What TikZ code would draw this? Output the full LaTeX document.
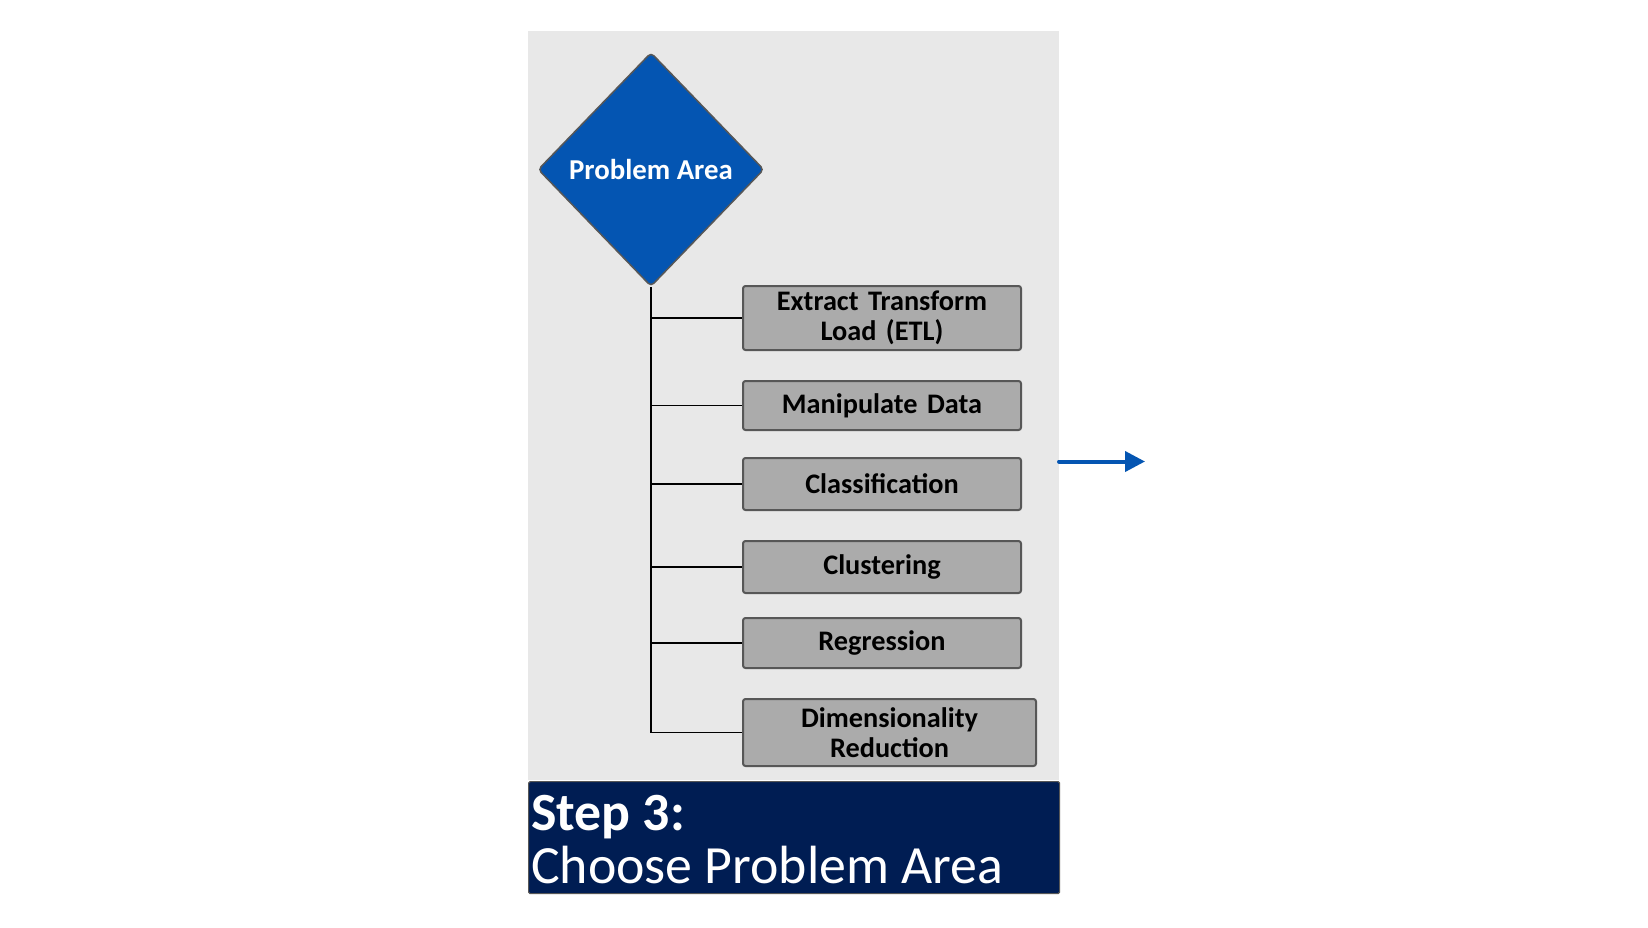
\documentclass[tikz,border=0pt]{standalone}
\usepackage{fontspec}
\setmainfont{Carlito}
\usetikzlibrary{shapes.geometric,arrows.meta}
\definecolor{panelgray}{HTML}{E8E8E8}
\definecolor{diablue}{HTML}{0455B2}
\definecolor{boxgray}{HTML}{ABABAB}
\definecolor{boxedge}{HTML}{575757}
\definecolor{navy}{HTML}{001D53}
\tikzset{
  itembox/.style={draw=boxedge, line width=2pt, fill=boxgray, rounded corners=2.5pt,
    minimum width=278pt, minimum height=50pt, inner sep=0pt, align=center,
    text width=270pt, font=\fontsize{28.3}{29.5}\selectfont\bfseries},
  branch/.style={draw=black, line width=1.8pt},
  titletext/.style={text=white, inner sep=0pt, anchor=base west}
}
\begin{document}
\begin{tikzpicture}[x=1pt,y=-1pt]
\useasboundingbox (0,0) rectangle (1648,927);
\fill[white] (0,0) rectangle (1648,927);
% panel
\node[fill=panelgray, minimum width=531pt, minimum height=749pt, inner sep=0pt, anchor=north west] (panel) at (528,31) {};
% title box
\node[fill=navy, draw=boxedge, line width=1.2pt, rounded corners=1.5pt, minimum width=531pt, minimum height=112pt, inner sep=0pt, anchor=north west] (titlebox) at (528,781) {};
\node[titletext, font=\fontsize{53.8}{54}\selectfont\bfseries] (t1) at (531,830) {Step 3:};
\node[titletext, font=\fontsize{53.8}{54}\selectfont] (t2) at (531,883) {Choose Problem Area};
% diamond
\node[diamond, fill=diablue, draw=boxedge, line width=1.5pt, rounded corners=4pt,
  minimum width=226pt, minimum height=234pt, inner sep=0pt, text=white,
  font=\fontsize{28.8}{29}\selectfont\bfseries] (pa) at (651,169.5) {Problem Area};
% boxes
\node[itembox, minimum height=64pt] (etl) at (882,318) {Extract Transform\\Load (ETL)};
\node[itembox, minimum height=49pt] (man) at (882,405.5) {Manipulate Data};
\node[itembox, minimum height=52pt] (cls) at (882,484) {Classification};
\node[itembox, minimum height=52pt] (clu) at (882,567) {Clustering};
\node[itembox, minimum height=50pt] (reg) at (882,643) {Regression};
\node[itembox, minimum width=293pt, minimum height=67pt, text width=285pt] (dim) at (889.5,732.5) {Dimensionality\\Reduction};
% connectors
\draw[branch] (pa.south) |- (dim.west);
\foreach \b in {etl,man,cls,clu,reg}{
  \draw[branch] (pa.south |- \b.west) -- (\b.west);
}
% arrow
\coordinate (a1) at (1059,461.5);
\coordinate (a2) at (1145,461.5);
\draw[diablue, line width=4pt, line cap=round, -{Triangle[length=20pt,width=20pt]}] (a1) -- (a2);
\end{tikzpicture}
\end{document}
